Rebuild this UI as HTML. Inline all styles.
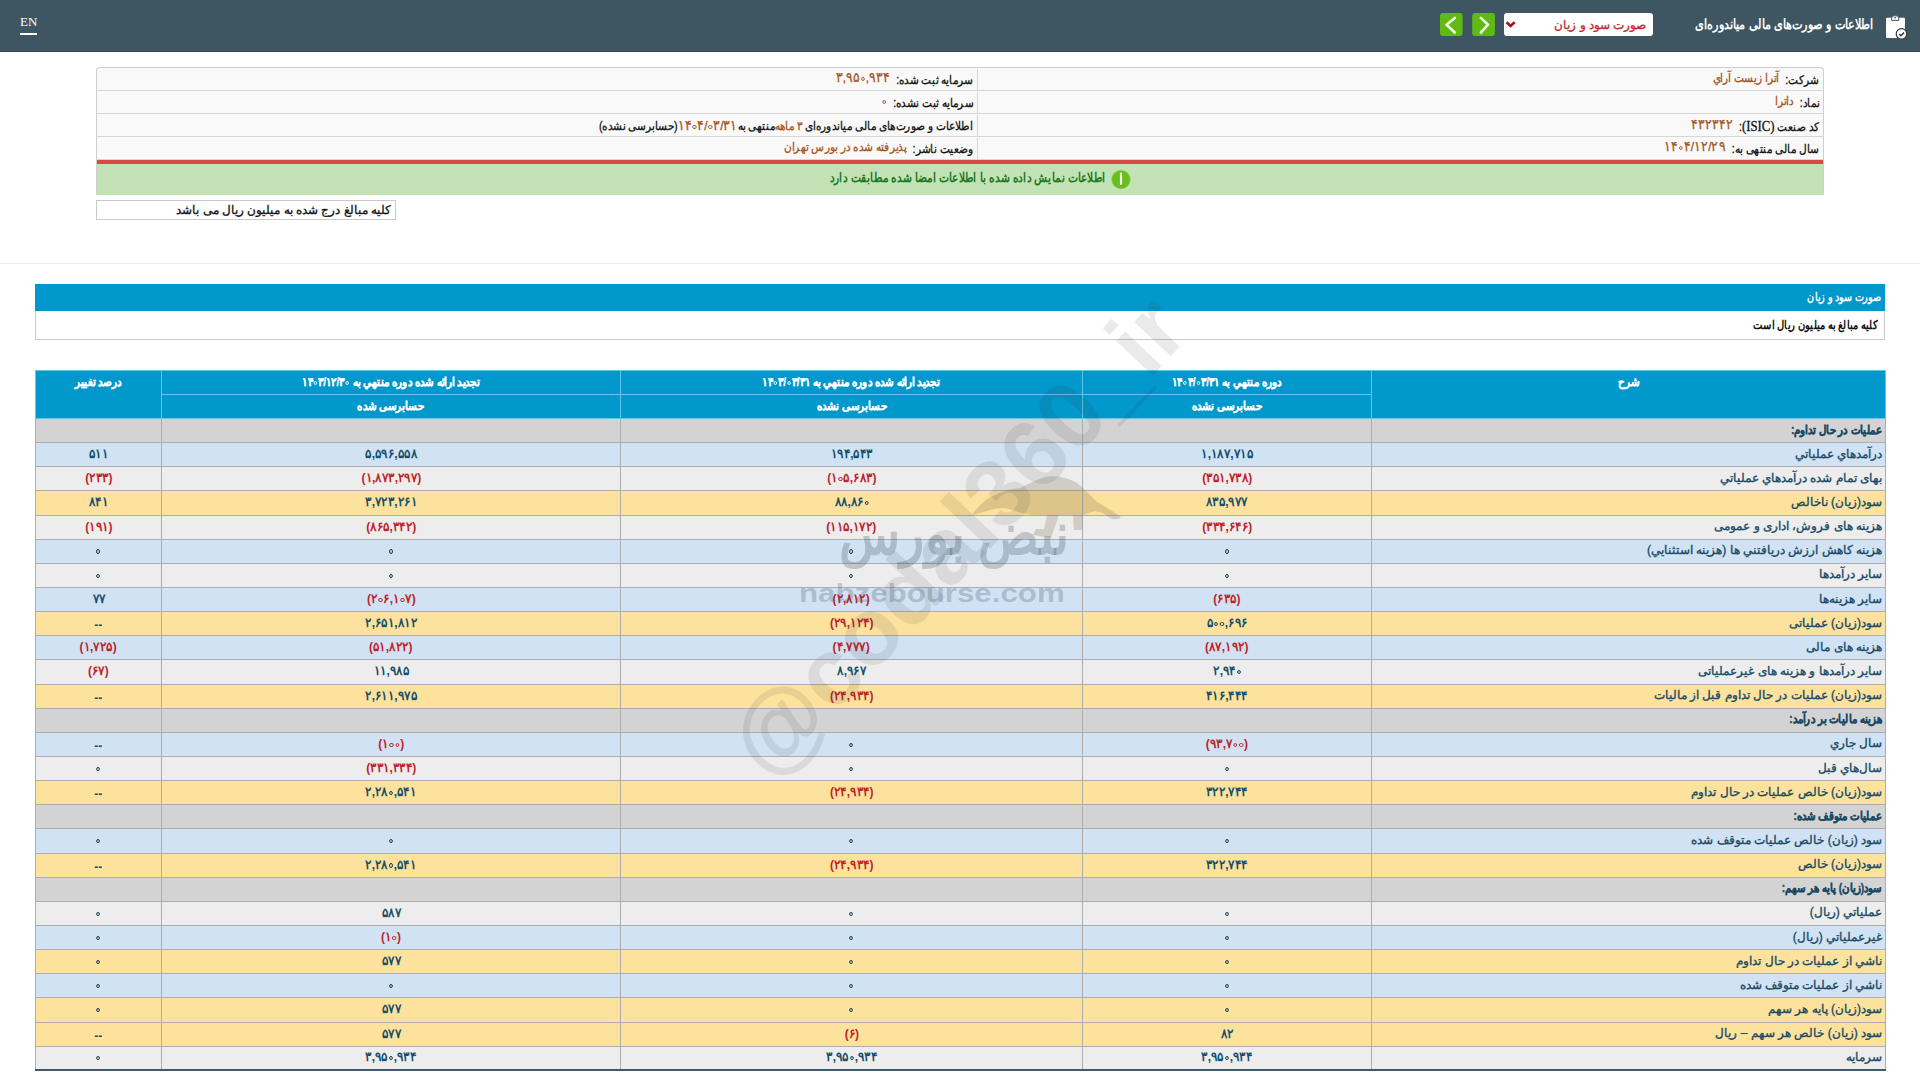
<!DOCTYPE html>
<html lang="fa">
<head>
<meta charset="utf-8">
<title>صورت سود و زیان</title>
<style>
*{box-sizing:border-box;margin:0;padding:0}
html,body{width:1920px;height:1080px;overflow:hidden;background:#fff}
body{font-family:"Liberation Sans",sans-serif;position:relative;color:#222}
.abs{position:absolute}
#hdr{left:0;top:0;width:1920px;height:52px;background:#3e5662;border-bottom:1px solid #37464f}
#en{left:20px;top:14px;font-family:"Liberation Serif",serif;font-size:13px;color:#fff;line-height:16px}
#en:after{content:"";position:absolute;left:0;right:0;top:19px;height:1.5px;background:#fff}
#ttl{right:47px;top:15px;font-size:13.5px;font-weight:bold;color:#fff;white-space:nowrap;direction:rtl;line-height:20px}
.gbtn{top:13px;width:23px;height:23px;background:#6cb52b;border-radius:3px}
#sel{left:1504px;top:13px;width:149px;height:23px;background:#fff;border-radius:3px}
#selt{right:7px;top:5px;font-size:11.5px;color:#c1272d;-webkit-text-stroke:.3px #c1272d;white-space:nowrap;direction:rtl}

#info{left:96px;top:67px;width:1728px;height:128px;border:1px solid #cfcfcf;border-bottom:none;border-radius:4px 4px 0 0;background:#f9f9f9;overflow:hidden}
.irow{position:absolute;left:0;width:1726px;height:23px;border-bottom:1px solid #d6d6d6}
.icell{position:absolute;top:1px;height:22px;line-height:22px;font-size:12px;direction:rtl;white-space:nowrap;color:#111;padding-right:4px;-webkit-text-stroke:.3px currentColor}
.icR{right:0;width:846px;border-left:1px solid #d6d6d6}
.icL{left:0;width:880px}
.v{color:#a5541c;margin-right:7px;position:relative;top:-2px}
#red{left:0;top:92px;width:1726px;height:4px;background:#d74b45}
#grn{left:0;top:96px;width:1726px;height:31px;background:#c3e2b5}
#grnt{right:717px;top:102px;font-size:13px;font-weight:bold;color:#1d7a1d;direction:rtl;white-space:nowrap}
#note{left:96px;top:200px;width:300px;height:20px;border:1px solid #c8c8c8;font-size:12px;-webkit-text-stroke:.3px #111;color:#111;direction:rtl;text-align:right;padding-right:4px;line-height:18px;white-space:nowrap;background:#fff}
#sep{left:0;top:263px;width:1920px;height:1px;background:#ececec}

#sec{left:35px;top:284px;width:1850px;height:27px;background:#0198cc}
#sect{right:4px;top:6px;font-size:12px;font-weight:bold;color:#fff;direction:rtl}
#sub{left:35px;top:311px;width:1850px;height:29px;border:1px solid #c8c8c8;border-top:none;background:#fff}
#subt{right:6px;top:7px;font-size:12px;font-weight:bold;color:#111;direction:rtl}

#tbl{position:absolute;left:35px;top:370px;width:1850px;border-collapse:collapse;table-layout:fixed;direction:rtl}
#tbl td,#tbl th{border:1px solid #adadad;height:24.15px;padding:0 3px;font-size:12px;white-space:nowrap;overflow:hidden}
#tbl th{background:#0198cc;color:#fff;font-weight:bold;-webkit-text-stroke:.25px #fff;border-color:#5ec6ec;vertical-align:top;padding-top:4px;height:24px;line-height:14px}
#tbl tr.h{height:24px}
#tbl td{text-align:center;font-weight:bold;color:#164f6b;padding-bottom:2px;font-size:13px}
#tbl td.l{font-size:12px}
#tbl td.l{text-align:right;font-weight:normal;color:#1a4a64;-webkit-text-stroke:.35px #1a4a64}
#tbl tr.s td{background:#d3d3d3}
#tbl tr.s td.l{font-weight:bold}
#tbl tr.b td{background:#d0e2f4}
#tbl tr.g td{background:#ededed}
#tbl tr.y td{background:#fde29d}
#tbl td.n{color:#c1222a}
#tbl tr:last-child td{border-bottom:2px solid #3e5a6a}
.sxr{display:inline-block;transform:scaleX(.85);transform-origin:100% 50%}
.sxc{display:inline-block;transform:scaleX(.86);transform-origin:50% 50%}
#wm{left:0;top:0;font-family:"Liberation Sans",sans-serif;font-weight:bold;font-size:95px;line-height:95px;color:rgba(60,60,60,.105);white-space:nowrap;transform-origin:0 0;transform:translate(712px,728px) rotate(-46.8deg);pointer-events:none;direction:ltr}
#nbz{right:851px;top:494px;font-size:58px;font-weight:bold;line-height:80px;color:rgba(70,80,95,.27);white-space:nowrap;direction:rtl;pointer-events:none;transform:scaleX(.865);transform-origin:100% 50%}
#nbzc{left:799px;top:578px;font-size:25px;font-weight:bold;line-height:30px;color:rgba(70,80,95,.26);white-space:nowrap;letter-spacing:0;transform:scaleX(1.25);transform-origin:0 50%;pointer-events:none}
#bull{left:935px;top:462px;pointer-events:none}
.z{display:inline-block;width:4.3px;height:4.3px;border:1.7px solid currentColor;border-radius:50%;margin:0 1px;vertical-align:1px}
.num{direction:ltr;unicode-bidi:isolate;display:inline}
.dd{position:relative;top:2px}
.icell .num{font-size:13.5px}
.ics{display:inline-block;transform:scaleX(.88);transform-origin:100% 50%}
.sn{display:inline-block;transform:scaleX(.92)}
#tbl td:not(.n) .z{border-color:#0b3345}
</style>
</head>
<body>
<div id="hdr" class="abs">
  <div id="en" class="abs">EN</div>
  <svg class="abs" style="left:1435px;top:8px" width="100" height="34" viewBox="0 0 100 34">
    <rect x="5" y="5" width="22.6" height="23" rx="3" fill="#5fbb14"/>
    <rect x="37.2" y="5" width="22.7" height="23" rx="3" fill="#5fbb14"/>
    <path d="M19.8 9.9 L11.5 16.7 L19.8 24.5" fill="none" stroke="#f2f9e2" stroke-width="2.6" stroke-linecap="round" stroke-linejoin="round"/>
    <path d="M45.8 9.9 L53.1 16.7 L45.8 24.5" fill="none" stroke="#f2f9e2" stroke-width="2.6" stroke-linecap="round" stroke-linejoin="round"/>
  </svg>
  <div id="sel" class="abs"><div id="selt" class="abs">صورت سود و زیان</div>
    <svg class="abs" style="left:0;top:0" width="20" height="23"><path d="M2.6 9.2 L6.5 13 L10.7 9.2" fill="none" stroke="#a3141a" stroke-width="2.6"/></svg>
  </div>
  <div id="ttl" class="abs"><span class="sxr" style="transform:scaleX(.80)">اطلاعات و صورت‌های مالی میاندوره‌ای</span></div>
  <svg class="abs" style="left:1880px;top:8px" width="32" height="34" viewBox="0 0 32 34">
    <rect x="6" y="9.7" width="19" height="20.4" rx="1" fill="#fff"/>
    <path d="M11.6 12.4 L11.6 10.2 Q11.6 7.6 15.2 7.6 Q18.8 7.6 18.8 10.2 L18.8 12.4 Z" fill="#fff" stroke="#3e5664" stroke-width="1"/>
    <circle cx="15.2" cy="9.6" r="0.9" fill="#3e5664"/>
    <circle cx="21.5" cy="25.9" r="5.3" fill="#fff" stroke="#333" stroke-width="1.2"/>
    <path d="M19.2 26 L21 27.7 L24.1 24.4" fill="none" stroke="#333" stroke-width="1.4"/>
  </svg>
</div>

<div id="info" class="abs">
  <div class="irow" style="top:0">
    <div class="icell icR"><span class="ics">شرکت:<span class="v">آترا زیست آراي</span></span></div>
    <div class="icell icL"><span class="ics">سرمایه ثبت شده:<span class="v"><span class="num">۳,۹۵<i class="z"></i>,۹۳۴</span></span></span></div>
  </div>
  <div class="irow" style="top:23px">
    <div class="icell icR"><span class="ics">نماد:<span class="v">داترا</span></span></div>
    <div class="icell icL"><span class="ics">سرمایه ثبت نشده:<span class="v"><span class="num"><i class="z"></i></span></span></span></div>
  </div>
  <div class="irow" style="top:46px">
    <div class="icell icR"><span class="ics">کد صنعت <span style="font-family:'Liberation Serif',serif;font-size:14.5px">(ISIC)</span>:<span class="v" style="font-size:13.5px">۴۳۲۳۴۲</span></span></div>
    <div class="icell icL"><span class="ics">اطلاعات و صورت‌های مالی میاندوره‌ای <span class="v" style="margin:0;top:0">۳ ماهه</span>&zwnj;منتهی به<span class="v" style="margin:0;top:0"><span class="num">۱۴<i class="z"></i>۴/<i class="z"></i>۳/۳۱</span></span>(حسابرسی نشده)</span></div>
  </div>
  <div class="irow" style="top:69px">
    <div class="icell icR"><span class="ics">سال مالی منتهی به:<span class="v"><span class="num">۱۴<i class="z"></i>۴/۱۲/۲۹</span></span></span></div>
    <div class="icell icL"><span class="ics">وضعیت ناشر:<span class="v">پذیرفته شده در بورس تهران</span></span></div>
  </div>
  <div id="red" class="abs"></div>
  <div id="grn" class="abs"></div>
  <div id="grnt" class="abs"><span class="sxr" style="transform:scaleX(.82)">اطلاعات نمایش داده شده با اطلاعات امضا شده مطابقت دارد</span></div>
  <svg class="abs" style="left:1014px;top:100.5px" width="22" height="22" viewBox="0 0 22 22"><circle cx="10" cy="10.5" r="9.4" fill="#69bd22" stroke="#9fdc5a" stroke-width=".8"/><path d="M10 6.5 L10 15" stroke="#f4ffe0" stroke-width="2.2" stroke-linecap="round"/><circle cx="10" cy="4.6" r="1.2" fill="#f4ffe0"/></svg>
</div>
<div id="note" class="abs">کلیه مبالغ درج شده به میلیون ریال می باشد</div>
<div id="sep" class="abs"></div>

<div id="sec" class="abs"><div id="sect" class="abs"><span class="sxr" style="transform:scaleX(.8)">صورت سود و زیان</span></div></div>
<div id="sub" class="abs"><div id="subt" class="abs"><span class="sxr" style="transform:scaleX(.83)">کلیه مبالغ به میلیون ریال است</span></div></div>

<table id="tbl">
<colgroup><col style="width:514px"><col style="width:289px"><col style="width:462px"><col style="width:459px"><col style="width:126px"></colgroup>
<tr class="h"><th rowspan="2"><span class="sxc">شرح</span></th><th><span class="sxc">دوره منتهي به <span class="num">۱۴<i class="z"></i>۴/<i class="z"></i>۳/۳۱</span></span></th><th><span class="sxc">تجدید ارائه شده دوره منتهي به <span class="num">۱۴<i class="z"></i>۳/<i class="z"></i>۳/۳۱</span></span></th><th><span class="sxc">تجدید ارائه شده دوره منتهي به <span class="num">۱۴<i class="z"></i>۳/۱۲/۳<i class="z"></i></span></span></th><th rowspan="2"><span class="sxc">درصد تغییر</span></th></tr>
<tr class="h"><th><span class="sxc">حسابرسی نشده</span></th><th><span class="sxc">حسابرسی نشده</span></th><th><span class="sxc">حسابرسی شده</span></th></tr>
<!--ROWS-->
<tr class="s"><td class="l"><span class="sxr" style="transform:scaleX(.85)">عملیات در حال تداوم:</span></td><td></td><td></td><td></td><td></td></tr>
<tr class="b"><td class="l">درآمدهاي عملياتي</td><td><span class="sn">۱,۱۸۷,۷۱۵</span></td><td><span class="sn">۱۹۴,۵۴۳</span></td><td><span class="sn">۵,۵۹۶,۵۵۸</span></td><td><span class="sn">۵۱۱</span></td></tr>
<tr class="g"><td class="l">بهای تمام شده درآمدهاي عملياتي</td><td class="n"><span class="sn">(۳۵۱,۷۳۸)</span></td><td class="n"><span class="sn"><span class="num">(۱<i class="z"></i>۵,۶۸۳)</span></span></td><td class="n"><span class="sn">(۱,۸۷۳,۲۹۷)</span></td><td class="n"><span class="sn">(۲۳۳)</span></td></tr>
<tr class="y"><td class="l">سود(زيان) ناخالص</td><td><span class="sn">۸۳۵,۹۷۷</span></td><td><span class="sn"><span class="num">۸۸,۸۶<i class="z"></i></span></span></td><td><span class="sn">۳,۷۲۳,۲۶۱</span></td><td><span class="sn">۸۴۱</span></td></tr>
<tr class="g"><td class="l">هزینه های فروش، اداری و عمومی</td><td class="n"><span class="sn">(۳۳۴,۶۴۶)</span></td><td class="n"><span class="sn">(۱۱۵,۱۷۲)</span></td><td class="n"><span class="sn">(۸۶۵,۳۴۲)</span></td><td class="n"><span class="sn">(۱۹۱)</span></td></tr>
<tr class="b"><td class="l">هزینه کاهش ارزش دریافتني ها (هزینه استثنایي)</td><td><span class="sn"><span class="num"><i class="z"></i></span></span></td><td><span class="sn"><span class="num"><i class="z"></i></span></span></td><td><span class="sn"><span class="num"><i class="z"></i></span></span></td><td><span class="sn"><span class="num"><i class="z"></i></span></span></td></tr>
<tr class="g"><td class="l">ساير درآمدها</td><td><span class="sn"><span class="num"><i class="z"></i></span></span></td><td><span class="sn"><span class="num"><i class="z"></i></span></span></td><td><span class="sn"><span class="num"><i class="z"></i></span></span></td><td><span class="sn"><span class="num"><i class="z"></i></span></span></td></tr>
<tr class="b"><td class="l">سایر هزینه‌ها</td><td class="n"><span class="sn">(۶۳۵)</span></td><td class="n"><span class="sn">(۲,۸۱۲)</span></td><td class="n"><span class="sn"><span class="num">(۲<i class="z"></i>۶,۱<i class="z"></i>۷)</span></span></td><td><span class="sn">۷۷</span></td></tr>
<tr class="y"><td class="l">سود(زيان) عملياتی</td><td><span class="sn"><span class="num">۵<i class="z"></i><i class="z"></i>,۶۹۶</span></span></td><td class="n"><span class="sn">(۲۹,۱۲۴)</span></td><td><span class="sn">۲,۶۵۱,۸۱۲</span></td><td><span class="sn"><span class="dd">--</span></span></td></tr>
<tr class="b"><td class="l">هزينه های مالی</td><td class="n"><span class="sn">(۸۷,۱۹۲)</span></td><td class="n"><span class="sn">(۴,۷۷۷)</span></td><td class="n"><span class="sn">(۵۱,۸۲۲)</span></td><td class="n"><span class="sn">(۱,۷۲۵)</span></td></tr>
<tr class="g"><td class="l">سایر درآمدها و هزینه های غیرعملیاتی</td><td><span class="sn"><span class="num">۲,۹۴<i class="z"></i></span></span></td><td><span class="sn">۸,۹۶۷</span></td><td><span class="sn">۱۱,۹۸۵</span></td><td class="n"><span class="sn">(۶۷)</span></td></tr>
<tr class="y"><td class="l">سود(زيان) عمليات در حال تداوم قبل از ماليات</td><td><span class="sn">۴۱۶,۴۴۴</span></td><td class="n"><span class="sn">(۲۴,۹۳۴)</span></td><td><span class="sn">۲,۶۱۱,۹۷۵</span></td><td><span class="sn"><span class="dd">--</span></span></td></tr>
<tr class="s"><td class="l"><span class="sxr" style="transform:scaleX(.85)">هزينه ماليات بر درآمد:</span></td><td></td><td></td><td></td><td></td></tr>
<tr class="b"><td class="l">سال جاري</td><td class="n"><span class="sn"><span class="num">(۹۳,۷<i class="z"></i><i class="z"></i>)</span></span></td><td><span class="sn"><span class="num"><i class="z"></i></span></span></td><td class="n"><span class="sn"><span class="num">(۱<i class="z"></i><i class="z"></i>)</span></span></td><td><span class="sn"><span class="dd">--</span></span></td></tr>
<tr class="g"><td class="l">سال‌هاي قبل</td><td><span class="sn"><span class="num"><i class="z"></i></span></span></td><td><span class="sn"><span class="num"><i class="z"></i></span></span></td><td class="n"><span class="sn">(۳۳۱,۳۳۴)</span></td><td><span class="sn"><span class="num"><i class="z"></i></span></span></td></tr>
<tr class="y"><td class="l">سود(زيان) خالص عمليات در حال تداوم</td><td><span class="sn">۳۲۲,۷۴۴</span></td><td class="n"><span class="sn">(۲۴,۹۳۴)</span></td><td><span class="sn"><span class="num">۲,۲۸<i class="z"></i>,۵۴۱</span></span></td><td><span class="sn"><span class="dd">--</span></span></td></tr>
<tr class="s"><td class="l"><span class="sxr" style="transform:scaleX(.85)">عمليات متوقف شده:</span></td><td></td><td></td><td></td><td></td></tr>
<tr class="b"><td class="l">سود (زيان) خالص عمليات متوقف شده</td><td><span class="sn"><span class="num"><i class="z"></i></span></span></td><td><span class="sn"><span class="num"><i class="z"></i></span></span></td><td><span class="sn"><span class="num"><i class="z"></i></span></span></td><td><span class="sn"><span class="num"><i class="z"></i></span></span></td></tr>
<tr class="y"><td class="l">سود(زيان) خالص</td><td><span class="sn">۳۲۲,۷۴۴</span></td><td class="n"><span class="sn">(۲۴,۹۳۴)</span></td><td><span class="sn"><span class="num">۲,۲۸<i class="z"></i>,۵۴۱</span></span></td><td><span class="sn"><span class="dd">--</span></span></td></tr>
<tr class="s"><td class="l"><span class="sxr" style="transform:scaleX(.85)">سود(زيان) پايه هر سهم:</span></td><td></td><td></td><td></td><td></td></tr>
<tr class="g"><td class="l">عملياتي (ريال)</td><td><span class="sn"><span class="num"><i class="z"></i></span></span></td><td><span class="sn"><span class="num"><i class="z"></i></span></span></td><td><span class="sn">۵۸۷</span></td><td><span class="sn"><span class="num"><i class="z"></i></span></span></td></tr>
<tr class="b"><td class="l">غيرعملياتي (ريال)</td><td><span class="sn"><span class="num"><i class="z"></i></span></span></td><td><span class="sn"><span class="num"><i class="z"></i></span></span></td><td class="n"><span class="sn"><span class="num">(۱<i class="z"></i>)</span></span></td><td><span class="sn"><span class="num"><i class="z"></i></span></span></td></tr>
<tr class="y"><td class="l">ناشي از عمليات در حال تداوم</td><td><span class="sn"><span class="num"><i class="z"></i></span></span></td><td><span class="sn"><span class="num"><i class="z"></i></span></span></td><td><span class="sn">۵۷۷</span></td><td><span class="sn"><span class="num"><i class="z"></i></span></span></td></tr>
<tr class="b"><td class="l">ناشي از عمليات متوقف شده</td><td><span class="sn"><span class="num"><i class="z"></i></span></span></td><td><span class="sn"><span class="num"><i class="z"></i></span></span></td><td><span class="sn"><span class="num"><i class="z"></i></span></span></td><td><span class="sn"><span class="num"><i class="z"></i></span></span></td></tr>
<tr class="y"><td class="l">سود(زيان) پايه هر سهم</td><td><span class="sn"><span class="num"><i class="z"></i></span></span></td><td><span class="sn"><span class="num"><i class="z"></i></span></span></td><td><span class="sn">۵۷۷</span></td><td><span class="sn"><span class="num"><i class="z"></i></span></span></td></tr>
<tr class="y"><td class="l">سود (زيان) خالص هر سهم – ريال</td><td><span class="sn">۸۲</span></td><td class="n"><span class="sn">(۶)</span></td><td><span class="sn">۵۷۷</span></td><td><span class="sn"><span class="dd">--</span></span></td></tr>
<tr class="g"><td class="l">سرمايه</td><td><span class="sn"><span class="num">۳,۹۵<i class="z"></i>,۹۳۴</span></span></td><td><span class="sn"><span class="num">۳,۹۵<i class="z"></i>,۹۳۴</span></span></td><td><span class="sn"><span class="num">۳,۹۵<i class="z"></i>,۹۳۴</span></span></td><td><span class="sn"><span class="num"><i class="z"></i></span></span></td></tr>
</table>

<div id="nbz" class="abs">نبض بورس</div>
<div id="nbzc" class="abs">nabzebourse.com</div>
<svg id="bull" class="abs" width="200" height="100" viewBox="0 0 200 100">
  <path d="M37 53 C45 42 52 36 60 33 C70 28 78 27 85 26 C98 20 108 14 118 14 C132 15 143 20 149 27 C154 32 158 36 162 40 C168 43 176 48 186 55 C182 59 176 58 168 51 L160 49 L148 53 L147 68 L139 68 L138 53 L124 53 L116 76 L98 73 L101 67 L109 67 L112 53 C104 53 96 53 90 52 C80 49 72 46 66 46 C56 47 46 51 37 53 Z" fill="rgba(120,100,70,.24)"/>
</svg>
<div id="wm" class="abs">@codal360_ir</div>
</body>
</html>
